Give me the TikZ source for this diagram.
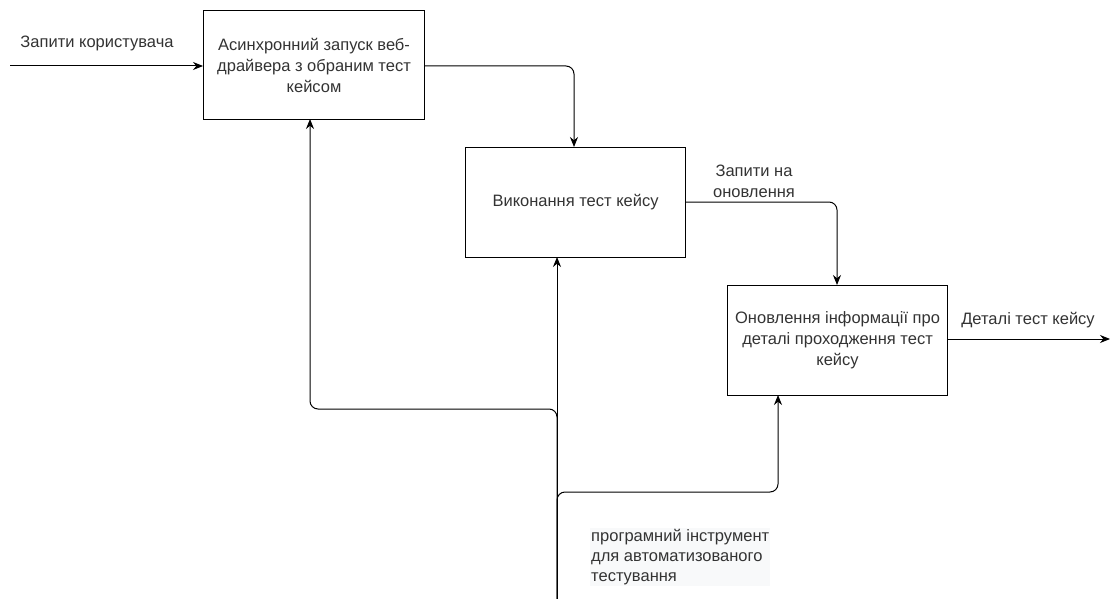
\documentclass[tikz,border=0pt]{standalone}
\usepackage{fontspec}
\setmainfont{Liberation Sans}
\usetikzlibrary{arrows.meta}
\definecolor{txt}{HTML}{333333}
\definecolor{notebg}{HTML}{F8F9FA}
\begin{document}
\begin{tikzpicture}[x=1pt,y=-1pt,
  font=\fontsize{16.5}{21}\selectfont,
  procbox/.style={draw=black,line width=1.1pt,minimum width=221pt,minimum height=109pt,anchor=north west,inner sep=0pt,align=center,text=txt},
  lbl/.style={text=txt,inner sep=1pt,align=center},
  flow/.style={draw=black,line width=1pt,rounded corners=8pt,-{Stealth[length=10pt,width=8pt]}}]
\useasboundingbox (0,0) rectangle (1110,599);
\node[procbox] (b1) at (203,10) {Асинхронний запуск веб-\\драйвера з обраним тест\\кейсом};
\node[procbox,minimum width=220pt,minimum height=110pt] (b2) at (465,147) {Виконання тест кейсу};
\node[procbox,minimum width=220pt,minimum height=110pt] (b3) at (727,285) {Оновлення інформації про\\деталі проходження тест\\кейсу};
\coordinate (in) at (10,66);
\coordinate (out) at (1110,339);
\coordinate (src) at (557,599);
% input
\draw[flow] (in) -- (b1.west |- in);
\node[lbl] (l1) at (97,43) {Запити користувача};
% b1 -> b2
\draw[flow] (b1.east |- 0,66) -- (574,66) -- (574,147);
% b2 -> b3
\draw[flow] (b2.east |- 0,202) -- (837,202) -- (837,285);
\node[lbl] (l2) at (754,181) {Запити на\\оновлення};
% output
\draw[flow] (b3.east |- out) -- (out);
\node[lbl] (l3) at (1028,320) {Деталі тест кейсу};
% mechanism
\draw[flow] (src) -- (557,257);
\draw[flow] (src) -- (557,409) -- (310,409) -- (310,119);
\draw[flow] (src) -- (557,492) -- (778,492) -- (778,395);
\node[text=txt,fill=notebg,align=left,anchor=north west,inner sep=1pt,font=\fontsize{16.5}{20}\selectfont] (l4) at (590,528) {програмний інструмент\\для автоматизованого\\тестування};
\end{tikzpicture}
\end{document}
